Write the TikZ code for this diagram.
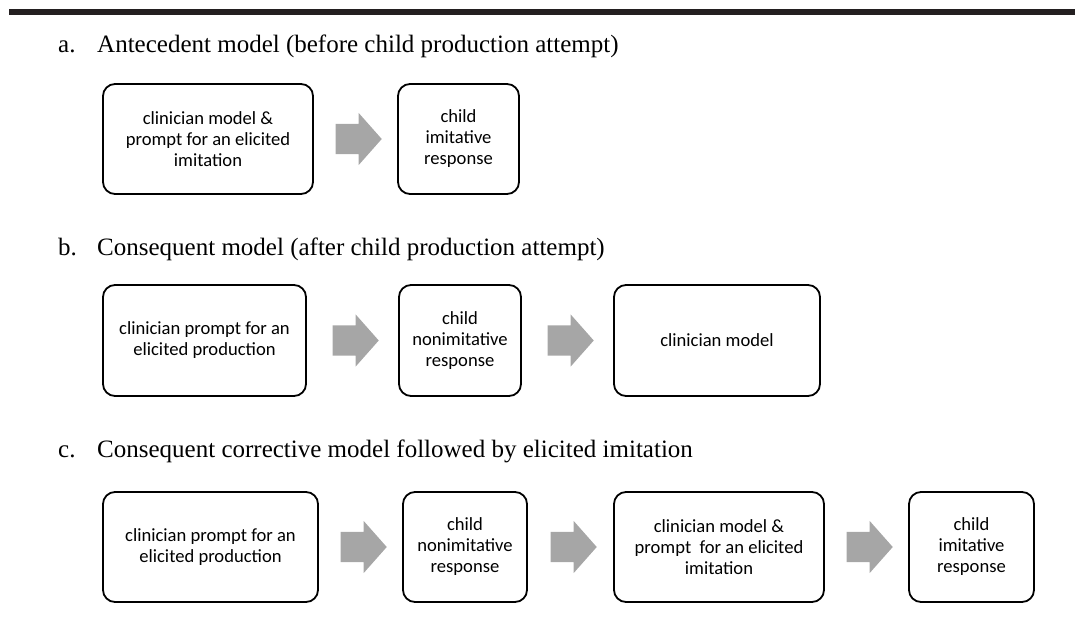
\documentclass[tikz,border=0pt]{standalone}
\usepackage{fontspec}
\setmainfont{Liberation Serif}
\newfontfamily\boxfont{Carlito}
\usetikzlibrary{shapes.arrows,calc}
\definecolor{arrowgray}{RGB}{166,166,166}
\definecolor{barblack}{RGB}{35,31,32}
\begin{document}
\begin{tikzpicture}[x=1pt,y=-1pt,
  stepbox/.style={draw=black, line width=1.8pt, rounded corners=12pt, align=center,
    font=\boxfont\fontsize{18.6}{21}\selectfont, inner sep=0pt},
  fatarrow/.style={single arrow, fill=arrowgray, draw=none, inner xsep=0pt, inner ysep=15pt,
    minimum height=46pt, single arrow head extend=11pt, single arrow tip angle=97},
  title/.style={anchor=base west, inner sep=0pt, font=\fontsize{25}{30}\selectfont}]
\useasboundingbox (0,0) rectangle (1075,617);
\fill[barblack] (9,9) rectangle (1075,15.5);

% row a
\node[title] (la) at (58,53) {a.};
\node[title] (ta) at (97,53) {Antecedent model (before child production attempt)};
\node[stepbox, minimum width=210pt, minimum height=110pt] (a1) at (208,139)
  {clinician model \&\\prompt for an elicited\\imitation};
\node[stepbox, minimum width=121pt, minimum height=110pt] (a2) at (458.5,139)
  {child\\imitative\\response};
\node[fatarrow] (ar1) at ($(a1.east)!0.5!(a2.west)+(-3.5,0)$) {};

% row b
\node[title] (lb) at (58,256) {b.};
\node[title] (tb) at (97,256) {Consequent model (after child production attempt)};
\node[stepbox, minimum width=203pt, minimum height=111pt] (b1) at (204.5,340.5)
  {clinician prompt for an\\elicited production};
\node[stepbox, minimum width=122pt, minimum height=111pt] (b2) at (460,340.5)
  {child\\nonimitative\\response};
\node[stepbox, minimum width=206pt, minimum height=111pt] (b3) at (717,340.5)
  {clinician model};
\node[fatarrow] (br1) at ($(b1.east)!0.5!(b2.west)+(-3.5,0)$) {};
\node[fatarrow] (br2) at ($(b2.east)!0.5!(b3.west)+(-3.5,0)$) {};

% row c
\node[title] (lc) at (58,457) {c.};
\node[title] (tc) at (97,457) {Consequent corrective model followed by elicited imitation};
\node[stepbox, minimum width=215pt, minimum height=110pt] (c1) at (210.5,547)
  {clinician prompt for an\\elicited production};
\node[stepbox, minimum width=124pt, minimum height=110pt] (c2) at (465,547)
  {child\\nonimitative\\response};
\node[stepbox, minimum width=210pt, minimum height=110pt] (c3) at (719,547)
  {clinician model \&\\prompt~ for an elicited\\imitation};
\node[stepbox, minimum width=125pt, minimum height=110pt] (c4) at (971.5,547)
  {child\\imitative\\response};
\node[fatarrow] (cr1) at ($(c1.east)!0.5!(c2.west)+(-3.5,0)$) {};
\node[fatarrow] (cr2) at ($(c2.east)!0.5!(c3.west)+(-3.5,0)$) {};
\node[fatarrow] (cr3) at ($(c3.east)!0.5!(c4.west)+(-3.5,0)$) {};
\end{tikzpicture}
\end{document}
